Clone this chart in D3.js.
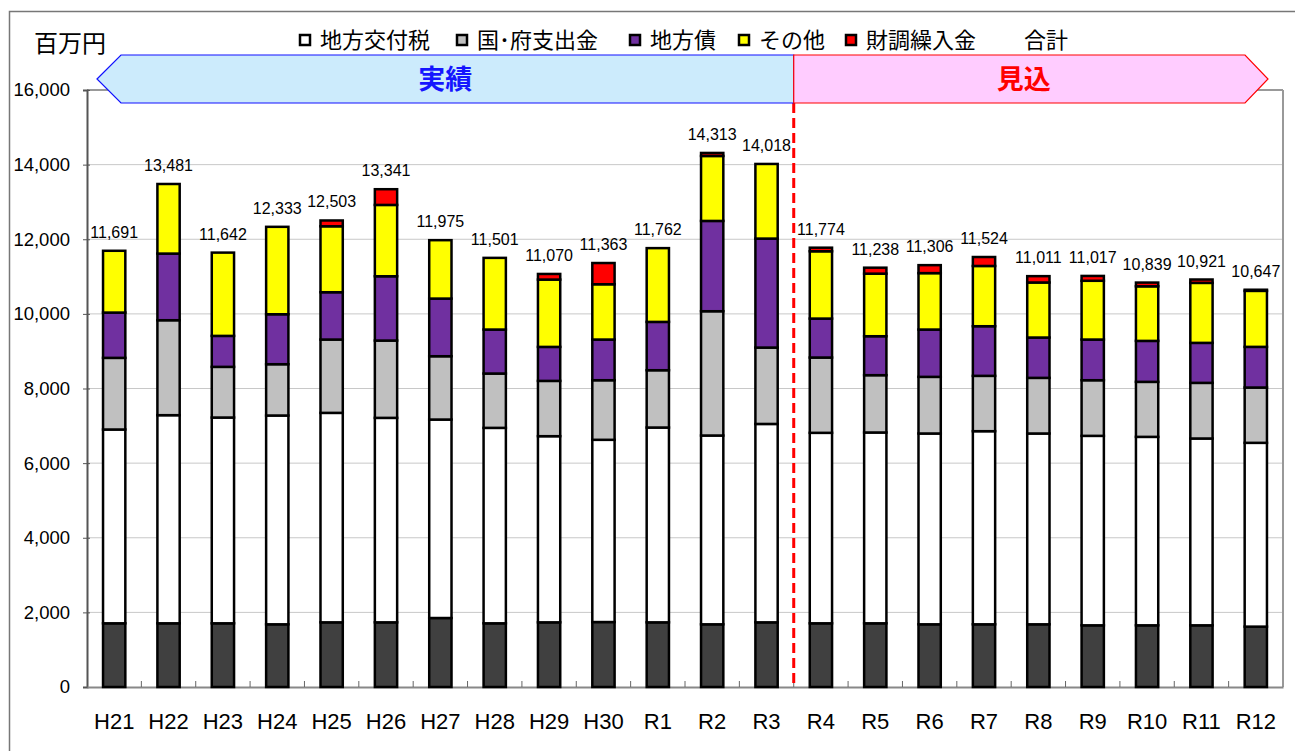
<!DOCTYPE html>
<html>
<head>
<meta charset="utf-8">
<script src="https://cdn.jsdelivr.net/npm/d3@7"></script>
<style>
  body { margin: 0; background: #fff; }
  svg text { font-family: "Liberation Sans", Arial, sans-serif; }
  .jp { font-family: "Noto Sans CJK JP", sans-serif; }
</style>
</head>
<body>
<div id="chart"></div>
<script>
// 年度
const years = ["H21","H22","H23","H24","H25","H26","H27","H28","H29","H30","R1","R2","R3",
               "R4","R5","R6","R7","R8","R9","R10","R11","R12"];
// 百万円 (bottom dark segment has no legend entry in the original)
const chouzei    = [1707,1707,1707,1680,1733,1733,1849,1707,1733,1741,1733,1680,1733,1707,1707,1680,1680,1680,1653,1653,1653,1618];
const koufuzei   = [5194,5578,5515,5596,5614,5480,5319,5238,4989,4884,5221,5060,5317,5105,5114,5114,5176,5114,5078,5051,5007,4926];
const shishutsu  = [1920,2545,1358,1375,1965,2072,1697,1456,1482,1597,1536,3331,2047,2018,1536,1518,1483,1491,1491,1474,1491,1482];
const chihousai  = [1214,1786, 830,1339,1268,1723,1545,1179, 911,1090,1295,2420,2921,1044,1044,1268,1330,1081,1090,1098,1072,1090];
const sonota     = [1656,1865,2232,2343,1768,1912,1565,1921,1804,1482,1977,1741,2000,1804,1677,1512,1615,1475,1575,1463,1608,1501];
const zaichou    = [   0,   0,   0,   0, 155, 421,   0,   0, 151, 569,   0,  81,   0,  96, 160, 214, 240, 170, 130, 100,  90,  30];

const yTicks = [0,2000,4000,6000,8000,10000,12000,14000,16000];
const lastActual = "R3";

const seriesKeys = ["chouzei","koufuzei","shishutsu","chihousai","sonota","zaichou"];
const colors = {
  chouzei: "#404040", koufuzei: "#ffffff", shishutsu: "#c0c0c0",
  chihousai: "#7030a0", sonota: "#ffff00", zaichou: "#ff0000"
};
const legendItems = [
  { label: "地方交付税", key: "koufuzei", x: 320 },
  { label: "国･府支出金", key: "shishutsu", x: 477 },
  { label: "地方債", key: "chihousai", x: 650 },
  { label: "その他", key: "sonota", x: 759 },
  { label: "財調繰入金", key: "zaichou", x: 866 },
  { label: "合計", key: null, x: 1024 }
];

const rows = years.map((y, i) => ({
  year: y,
  chouzei: chouzei[i], koufuzei: koufuzei[i], shishutsu: shishutsu[i],
  chihousai: chihousai[i], sonota: sonota[i], zaichou: zaichou[i]
}));
rows.forEach(r => { r.total = d3.sum(seriesKeys, k => r[k]); });

const width = 1295, height = 751;
const margin = { left: 87, right: 12, top: 90, bottom: 64 };

const svg = d3.select("#chart").append("svg")
    .attr("width", width)
    .attr("height", height);

// outer frame
svg.append("rect")
    .attr("x", 9.5).attr("y", 11.5)
    .attr("width", 1300).attr("height", 760)
    .attr("fill", "none")
    .attr("stroke", "#777")
    .attr("stroke-width", 1.5);

const x = d3.scaleBand()
    .domain(years)
    .range([margin.left, width - margin.right])
    .padding(0);

const y = d3.scaleLinear()
    .domain([0, 16000])
    .range([height - margin.bottom, margin.top]);

const barW = x.bandwidth() * 0.41;

// gridlines
svg.append("g")
  .selectAll("line")
  .data(yTicks.filter(t => t > 0 && t < 16000))
  .join("line")
    .attr("x1", margin.left).attr("x2", width - margin.right)
    .attr("y1", d => y(d)).attr("y2", d => y(d))
    .attr("stroke", "#c8c8c8")
    .attr("stroke-width", 1);

// plot frame top / right
svg.append("line")
    .attr("x1", margin.left).attr("x2", width - margin.right)
    .attr("y1", y(16000)).attr("y2", y(16000))
    .attr("stroke", "#999").attr("stroke-width", 2);
svg.append("line")
    .attr("x1", width - margin.right).attr("x2", width - margin.right)
    .attr("y1", y(16000)).attr("y2", y(0))
    .attr("stroke", "#999").attr("stroke-width", 2);

// y axis
const yAxis = svg.append("g")
    .attr("transform", `translate(${margin.left},0)`)
    .call(d3.axisLeft(y).tickValues(yTicks).tickFormat(d3.format(",")).tickSize(4).tickPadding(13));
yAxis.select(".domain").attr("stroke", "#555").attr("stroke-width", 2);
yAxis.selectAll(".tick line").attr("stroke", "#555").attr("x2", 3).attr("x1", -4);
yAxis.selectAll(".tick text")
    .attr("font-size", 18.5)
    .attr("fill", "#000")
    .style("font-family", "'Liberation Sans', Arial, sans-serif");

// x axis
const xAxis = svg.append("g")
    .attr("transform", `translate(0,${y(0)})`)
    .call(d3.axisBottom(x).tickSize(0).tickPadding(26));
xAxis.select(".domain").attr("stroke", "#888").attr("stroke-width", 2);
xAxis.selectAll(".tick text")
    .attr("font-size", 22)
    .attr("fill", "#000")
    .style("font-family", "'Liberation Sans', Arial, sans-serif");

// inward tick marks between categories
svg.append("g")
  .selectAll("line")
  .data(years.slice(1))
  .join("line")
    .attr("x1", d => x(d)).attr("x2", d => x(d))
    .attr("y1", y(0)).attr("y2", y(0) - 6)
    .attr("stroke", "#666")
    .attr("stroke-width", 1);

// stacked bars
const stacked = d3.stack().keys(seriesKeys)(rows);

svg.append("g")
  .selectAll("g")
  .data(stacked)
  .join("g")
    .attr("fill", d => colors[d.key])
  .selectAll("rect")
  .data(d => d.filter(s => s[1] - s[0] > 0))
  .join("rect")
    .attr("x", d => x(d.data.year) + (x.bandwidth() - barW) / 2)
    .attr("y", d => y(d[1]))
    .attr("width", barW)
    .attr("height", d => y(d[0]) - y(d[1]))
    .attr("stroke", "#000")
    .attr("stroke-width", 2.5);

// total labels
svg.append("g")
  .selectAll("text")
  .data(rows)
  .join("text")
    .attr("x", d => x(d.year) + x.bandwidth() / 2)
    .attr("y", d => y(d.total) - 13)
    .attr("text-anchor", "middle")
    .attr("font-size", 16)
    .attr("fill", "#000")
    .text(d => d3.format(",")(d.total));

// actual / forecast split
const splitX = x(lastActual) + x.bandwidth();
svg.append("line")
    .attr("x1", splitX).attr("x2", splitX)
    .attr("y1", 103).attr("y2", y(0))
    .attr("stroke", "#ff0000")
    .attr("stroke-width", 3)
    .attr("stroke-dasharray", "10,5");

// banners
const bTop = 55, bBot = 103, bMid = 79;
svg.append("polygon")
    .attr("points", [[97, bMid], [121, bTop], [splitX, bTop], [splitX, bBot], [121, bBot]].join(" "))
    .attr("fill", "#ccebfc")
    .attr("stroke", "#1010ff")
    .attr("stroke-width", 1.2);
svg.append("polygon")
    .attr("points", [[splitX, bTop], [1245, bTop], [1268, bMid], [1245, bBot], [splitX, bBot]].join(" "))
    .attr("fill", "#ffccff")
    .attr("stroke", "#ff0000")
    .attr("stroke-width", 1.2);
svg.append("text")
    .attr("class", "jp")
    .attr("x", (97 + splitX) / 2).attr("y", bMid + 10)
    .attr("text-anchor", "middle")
    .attr("font-size", 27).attr("font-weight", "bold")
    .attr("fill", "#1515ff")
    .text("実績");
svg.append("text")
    .attr("class", "jp")
    .attr("x", (splitX + 1268) / 2 - 7).attr("y", bMid + 10)
    .attr("text-anchor", "middle")
    .attr("font-size", 27).attr("font-weight", "bold")
    .attr("fill", "#ff0000")
    .text("見込");

// unit
svg.append("text")
    .attr("class", "jp")
    .attr("x", 34).attr("y", 52)
    .attr("font-size", 24)
    .attr("fill", "#000")
    .text("百万円");

// legend
const legend = svg.append("g");
legendItems.forEach(item => {
    if (item.key) {
        legend.append("rect")
            .attr("x", item.x - 20).attr("y", 35)
            .attr("width", 10).attr("height", 10)
            .attr("fill", colors[item.key])
            .attr("stroke", "#000")
            .attr("stroke-width", 2.5);
    }
    legend.append("text")
        .attr("class", "jp")
        .attr("x", item.x).attr("y", 48)
        .attr("font-size", 22)
        .attr("fill", "#000")
        .text(item.label);
});
</script>
</body>
</html>
